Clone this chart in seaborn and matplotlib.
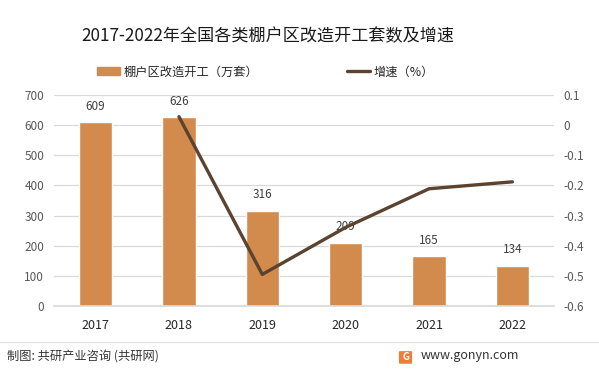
import matplotlib
matplotlib.use("Agg")
import matplotlib.pyplot as plt
import matplotlib.patches as mpatches
from matplotlib.lines import Line2D
import numpy as np
import pandas as pd
import seaborn as sns

years = ["2017", "2018", "2019", "2020", "2021", "2022"]
starts = [609, 626, 316, 209, 165, 134]
growth = [np.nan, 0.028, -0.495, -0.339, -0.211, -0.188]
left_ticks = [0, 100, 200, 300, 400, 500, 600, 700]
right_ticks = [-0.6, -0.5, -0.4, -0.3, -0.2, -0.1, 0, 0.1]
right_labels = ["-0.6", "-0.5", "-0.4", "-0.3", "-0.2", "-0.1", "0", "0.1"]

title = "2017-2022年全国各类棚户区改造开工套数及增速"
bar_label = "棚户区改造开工（万套）"
line_label = "增速（%）"
source = "制图: 共研产业咨询 (共研网)"
site = "www.gonyn.com"

sns.set_theme(style="white")
plt.rcParams["font.family"] = ["Noto Sans CJK SC", "DejaVu Sans"]

bar_color = "#D38B4D"
line_color = "#5B4330"
grid_color = "#D9D9D9"
tick_color = "#595959"

fig = plt.figure(figsize=(5.99, 3.71), dpi=100)
ax = fig.add_axes([0.090, 0.175, 0.835, 0.569])

df = pd.DataFrame({"year": years, "starts": starts, "growth": growth,
                   "pos": np.arange(len(years))})

sns.barplot(data=df, x="year", y="starts", color=bar_color, saturation=1,
            width=0.4, ax=ax, zorder=2)
ax.set_ylim(0, 700)
ax.set_yticks(left_ticks)
ax.yaxis.grid(True, color=grid_color, linewidth=0.9, zorder=0)
ax.set_axisbelow(True)
for s in ["top", "right", "left"]:
    ax.spines[s].set_visible(False)
ax.spines["bottom"].set_color(grid_color)
ax.set_xlabel("")
ax.set_ylabel("")
ax.tick_params(axis="y", length=0, labelsize=8.5, labelcolor=tick_color, pad=7)
ax.tick_params(axis="x", length=0, labelsize=9, labelcolor="#262626", pad=9)
for c in ax.containers:
    ax.bar_label(c, labels=[str(v) for v in starts], padding=7, fontsize=8.5, color="#404040")

ax2 = ax.twinx()
sns.lineplot(data=df, x="pos", y="growth", color=line_color, linewidth=2.4, ax=ax2, zorder=3)
ax2.set_ylim(-0.6, 0.1)
ax2.set_yticks(right_ticks)
ax2.set_yticklabels(right_labels)
ax2.tick_params(axis="y", length=0, labelsize=8.5, labelcolor=tick_color, pad=7)
for s in ["top", "right", "left", "bottom"]:
    ax2.spines[s].set_visible(False)
ax2.set_ylabel("")
ax2.set_xlabel("")
ax.set_xlim(-0.5, len(years) - 0.5)
ax2.set_xlim(-0.5, len(years) - 0.5)

fig.text(0.447, 0.903, title, ha="center", va="center", fontsize=12.3, color="#1a1a1a")

handles = [mpatches.Patch(color=bar_color, label=bar_label),
           Line2D([0], [0], color=line_color, linewidth=2.4, label=line_label)]
fig.legend(handles=handles, loc="center", bbox_to_anchor=(0.443, 0.806), ncol=2,
           frameon=False, fontsize=8.8, columnspacing=7.2, handlelength=1.9,
           handletextpad=0.3, handleheight=0.6)

fig.add_artist(Line2D([0.0, 1.0], [1 - 342 / 371, 1 - 342 / 371], color="#E0E0E0", linewidth=0.8))

fig.text(0.012, 1 - 357 / 371, source, ha="left", va="center", fontsize=8.8, color="#333333")
logo = mpatches.FancyBboxPatch((0.668, 1 - 363 / 371), 0.018, 0.030,
                               boxstyle="round,pad=0.002", transform=fig.transFigure,
                               facecolor="#EE7D3B", edgecolor="none")
fig.add_artist(logo)
fig.text(0.677, 1 - 356.5 / 371, "G", ha="center", va="center", fontsize=7,
         color="white", fontweight="bold")
fig.text(0.703, 1 - 356 / 371, site, ha="left", va="center", fontsize=9, color="#333333")

fig.savefig("out.png", dpi=100, facecolor="white")
